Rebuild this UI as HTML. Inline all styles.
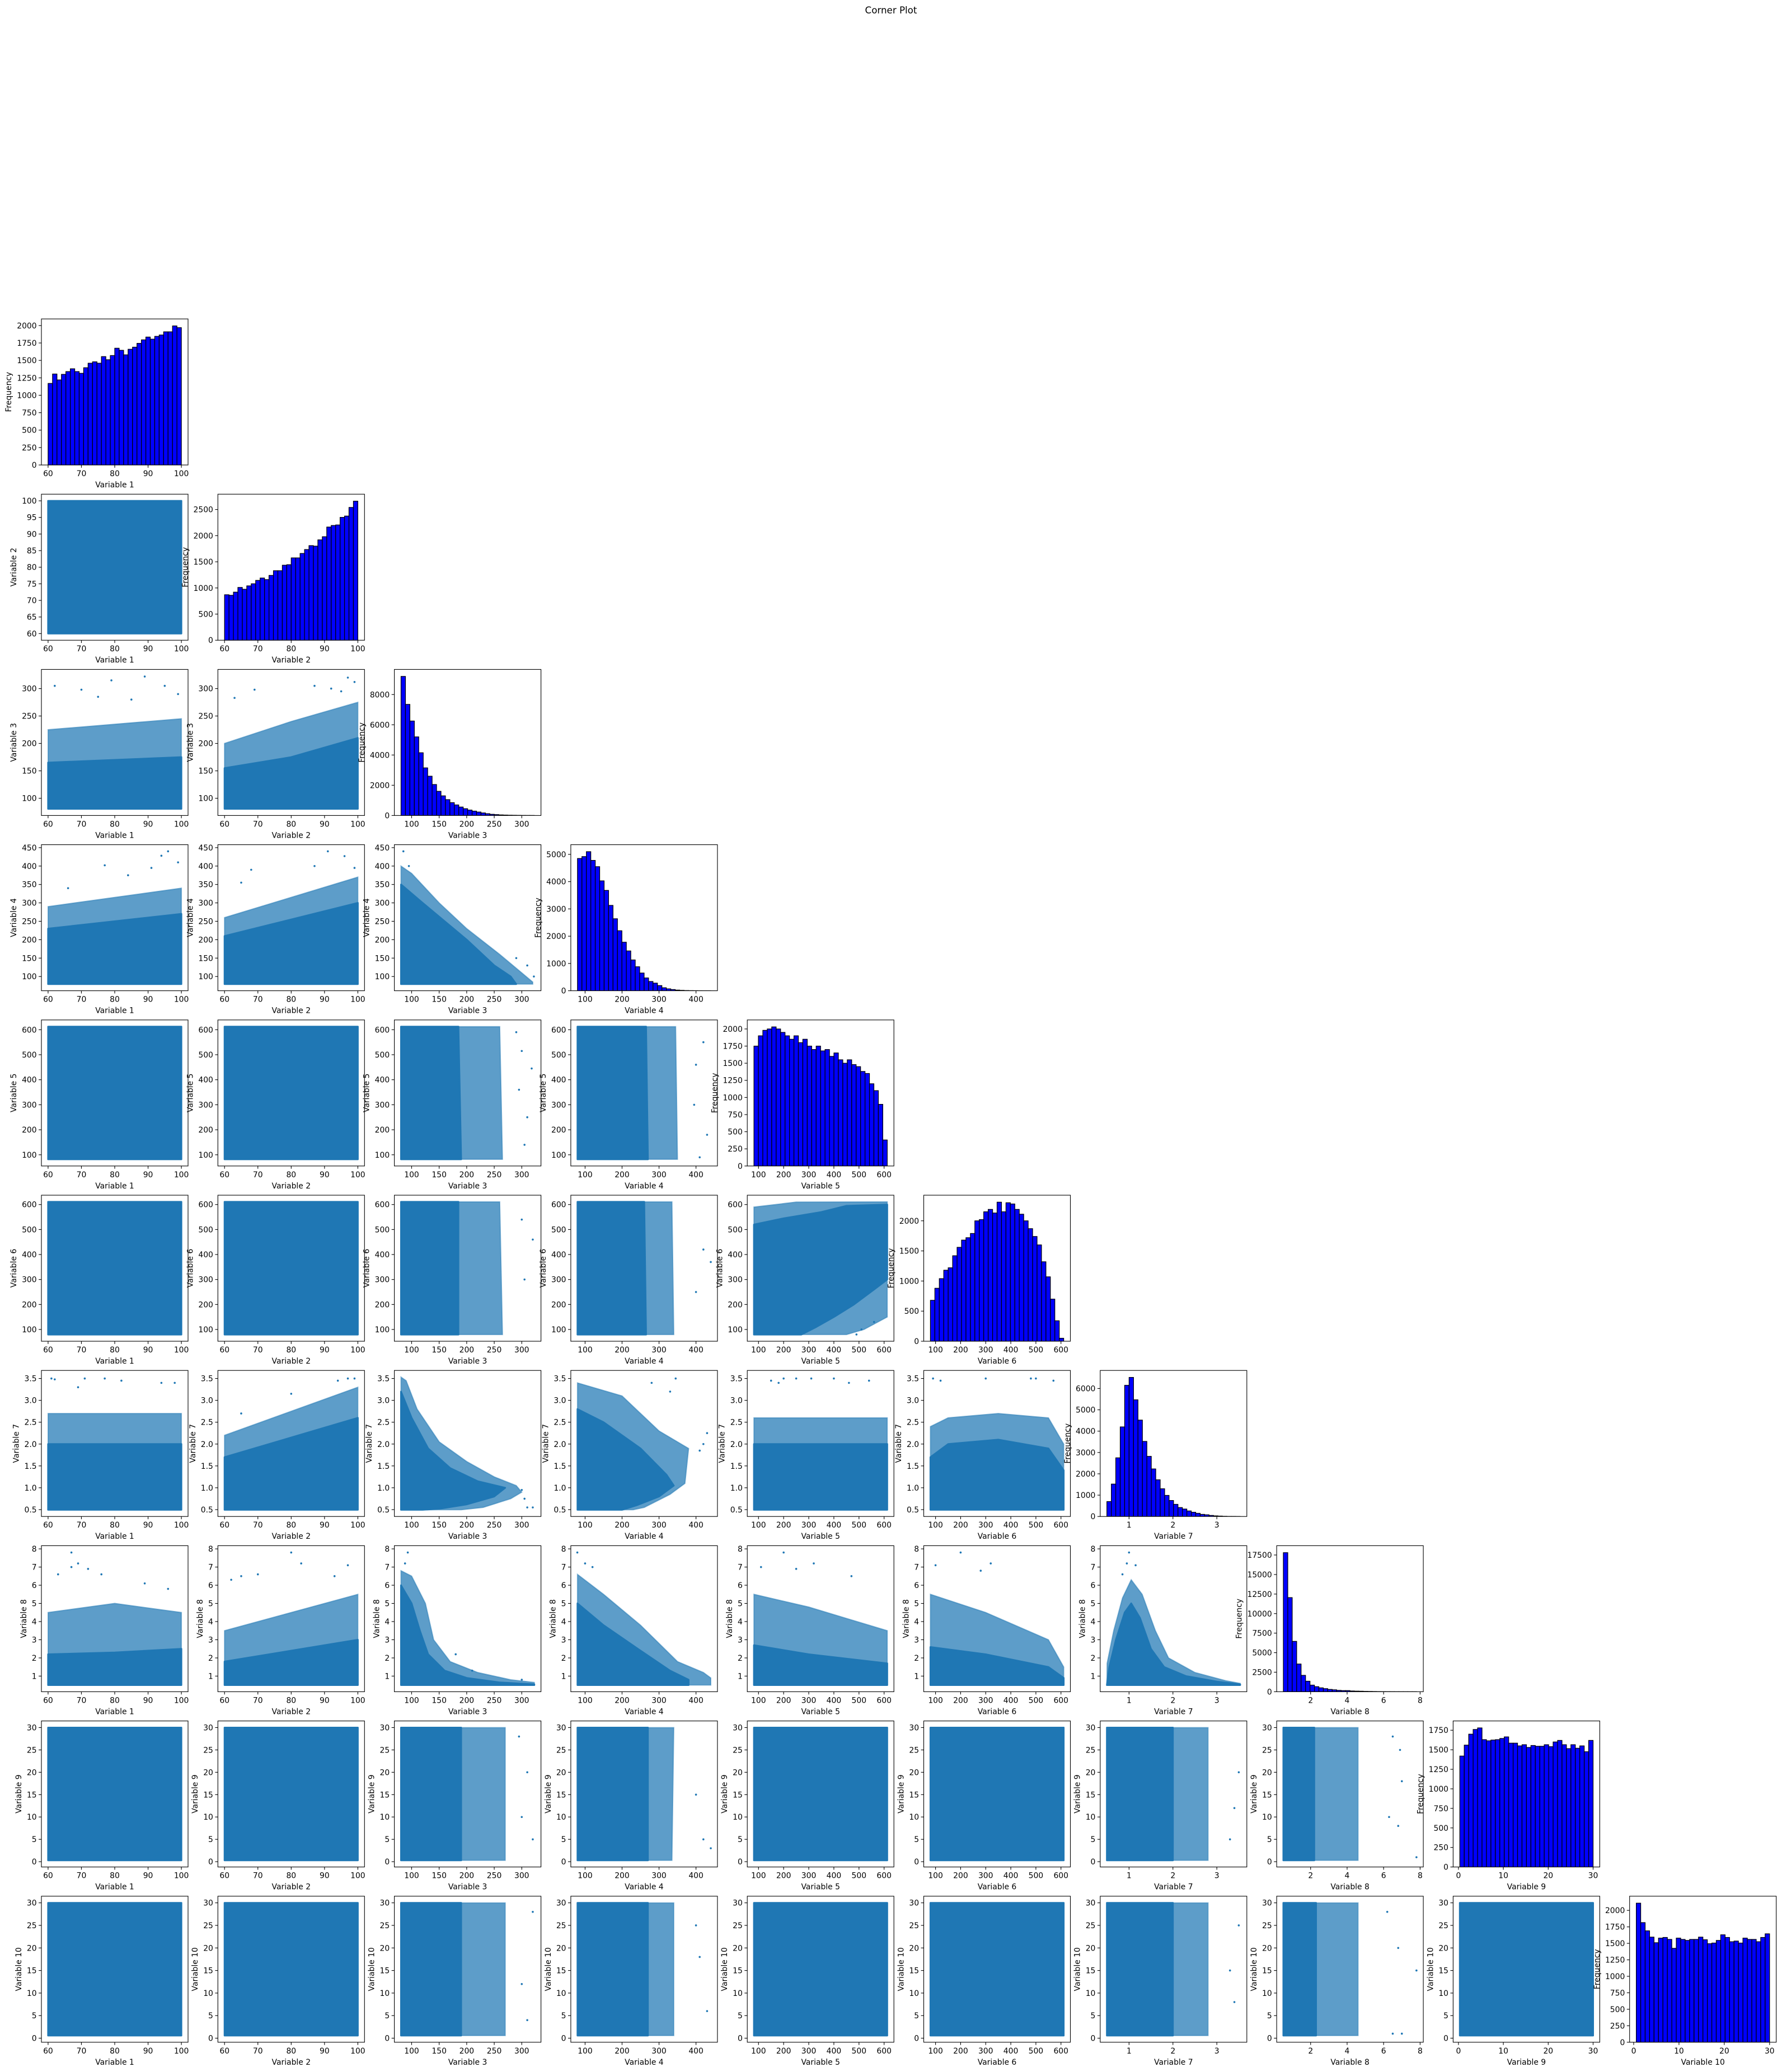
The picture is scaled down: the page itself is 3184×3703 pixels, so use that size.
<!DOCTYPE html>
<html><head><meta charset="utf-8">
<style>
html,body{margin:0;padding:0;background:#fff;}
svg{display:block;font-family:"DejaVu Sans","Liberation Sans",sans-serif;}
</style></head>
<body>
<svg id="fig" width="3184" height="3703" xmlns="http://www.w3.org/2000/svg">
<rect x="0" y="0" width="3184" height="3703" fill="#fff"/>
<text x="1592" y="24" font-size="16.7" text-anchor="middle" fill="#000">Corner Plot</text>
</svg>
<script>
// ---------- data ----------
const varNames = ['Variable 1','Variable 2','Variable 3','Variable 4','Variable 5','Variable 6','Variable 7','Variable 8','Variable 9','Variable 10'];
const varMin = [60,60,80.7,79.4,81.8,79.5,0.495,0.505,0.3,0.57];
const varMax = [100,100,322.8,440,612.5,610.9,3.532,7.81,30,30];
const xTicks = [[60,70,80,90,100],[60,70,80,90,100],[100,150,200,250,300],[100,200,300,400],[100,200,300,400,500,600],[100,200,300,400,500,600],[1,2,3],[2,4,6,8],[0,10,20,30],[0,10,20,30]];
const yTicks = [[60,65,70,75,80,85,90,95,100],[60,65,70,75,80,85,90,95,100],[100,150,200,250,300],[100,150,200,250,300,350,400,450],[100,200,300,400,500,600],[100,200,300,400,500,600],[0.5,1.0,1.5,2.0,2.5,3.0,3.5],[1,2,3,4,5,6,7,8],[0,5,10,15,20,25,30],[0,5,10,15,20,25,30]];
const yTickDecimals = [0,0,0,0,0,0,1,0,0,0];

const hist1 = [1170,1305,1220,1300,1340,1380,1340,1315,1395,1460,1480,1460,1555,1510,1570,1675,1645,1580,1660,1690,1745,1795,1835,1805,1845,1865,1910,1910,1995,1970];
const hist2 = [870,860,920,1010,975,1040,1080,1145,1190,1160,1240,1330,1330,1435,1445,1575,1575,1660,1735,1810,1800,1920,1980,2165,2195,2205,2350,2375,2540,2660];
const hist3 = [9200,7350,6250,5200,4150,3150,2600,2050,1600,1300,1050,850,700,560,450,360,290,230,170,120,80,60,40,30,20,15,10,5,3,2];
const hist4 = [4850,4920,5100,4780,4550,4030,3680,3130,2640,2200,1780,1460,1130,880,650,470,340,280,190,110,70,45,25,15,8,5,3,2,1,1];
const hist5 = [1750,1900,1980,2000,2030,2000,1950,1900,1850,1900,1800,1850,1750,1700,1750,1680,1700,1600,1650,1550,1500,1550,1480,1450,1380,1350,1200,1100,900,380];
const hist6 = [680,880,1040,1180,1220,1420,1560,1680,1720,1790,2000,2020,2150,2190,2130,2310,2150,2300,2280,2190,2110,2000,1870,1740,1600,1320,1070,700,340,50];
const hist7 = [700,1520,2750,4200,6150,6520,5470,4520,3520,2820,2230,1720,1300,990,750,570,420,350,260,200,150,100,80,50,30,20,10,5,5,3];
const hist8 = [17800,12050,6450,3550,2100,1350,850,650,500,400,300,250,180,150,150,100,80,70,50,40,30,20,15,10,8,5,4,3,2,2];
const hist9 = [1420,1560,1700,1760,1780,1630,1615,1625,1630,1645,1665,1585,1585,1550,1565,1530,1555,1545,1545,1565,1540,1600,1620,1565,1515,1565,1520,1550,1475,1620];
const hist10 = [2110,1815,1690,1595,1510,1580,1590,1560,1425,1580,1560,1545,1560,1560,1595,1555,1495,1505,1545,1630,1590,1525,1535,1505,1580,1560,1560,1525,1590,1645];
const hists = [hist1,hist2,hist3,hist4,hist5,hist6,hist7,hist8,hist9,hist10];
const histTicks = [[0,250,500,750,1000,1250,1500,1750,2000],[0,500,1000,1500,2000,2500],[0,2000,4000,6000,8000],[0,1000,2000,3000,4000,5000],[0,250,500,750,1000,1250,1500,1750,2000],[0,500,1000,1500,2000],[0,1000,2000,3000,4000,5000,6000],[0,2500,5000,7500,10000,12500,15000,17500],[0,250,500,750,1000,1250,1500,1750],[0,250,500,750,1000,1250,1500,1750,2000]];

const pairShapes = [
 {y:2,x:1,t:'rect'},
 {y:3,x:1,t:'ytop',s:[60,100],c:[165,175],f:[225,245],o:[[62,305],[70,298],[79,315],[89,322],[95,305],[99,290],[75,285],[85,280]]},
 {y:3,x:2,t:'ytop',s:[60,80,100],c:[155,175,210],f:[200,240,275],o:[[97,320],[99,312],[87,305],[69,298],[63,283],[95,295],[92,300]]},
 {y:4,x:1,t:'ytop',s:[60,100],c:[230,270],f:[290,340],o:[[96,440],[77,402],[99,410],[91,395],[84,375],[66,340],[94,428]]},
 {y:4,x:2,t:'ytop',s:[60,100],c:[210,300],f:[260,370],o:[[91,440],[96,427],[68,390],[87,400],[65,355],[99,395]]},
 {y:4,x:3,t:'poly',c:[[80.7,79.4],[80.7,350],[120,300],[200,200],[250,130],[280,100],[290,79.4]],f:[[80.7,79.4],[80.7,400],[100,380],[150,300],[200,230],[260,160],[300,110],[320,85],[320,79.4]],o:[[85,440],[95,400],[310,130],[322,100],[290,150]]},
 {y:5,x:1,t:'rect'},{y:5,x:2,t:'rect'},
 {y:5,x:3,t:'xright',s:[81.8,612.5],c:[190,185],f:[265,260],o:[[300,515],[318,445],[305,140],[310,250],[290,590],[295,360]]},
 {y:5,x:4,t:'xright',s:[81.8,612.5],c:[270,265],f:[350,345],o:[[420,550],[400,460],[430,180],[410,90],[395,300]]},
 {y:6,x:1,t:'rect'},{y:6,x:2,t:'rect'},
 {y:6,x:3,t:'xright',s:[79.5,610.9],c:[185,185],f:[265,260],o:[[300,540],[320,460],[305,300]]},
 {y:6,x:4,t:'xright',s:[79.5,610.9],c:[265,260],f:[340,335],o:[[420,420],[440,370],[400,250]]},
 {y:6,x:5,t:'poly',c:[[81.8,79.5],[81.8,520],[200,545],[350,570],[450,595],[612.5,600],[612.5,300],[560,260],[480,200],[400,150],[330,110],[270,79.5]],f:[[81.8,79.5],[81.8,590],[250,610],[612.5,610.9],[612.5,150],[520,100],[450,79.5]],o:[[560,130],[490,80],[510,100]]},
 {y:7,x:1,t:'ytop',s:[60,100],c:[2.0,2.0],f:[2.7,2.7],o:[[61,3.5],[62,3.48],[71,3.5],[77,3.5],[82,3.45],[94,3.4],[98,3.4],[69,3.3]]},
 {y:7,x:2,t:'ytop',s:[60,100],c:[1.7,2.6],f:[2.2,3.3],o:[[97,3.5],[99,3.5],[94,3.45],[80,3.15],[65,2.7]]},
 {y:7,x:3,t:'poly',c:[[80.7,0.495],[80.7,3.2],[100,2.6],[130,1.9],[170,1.45],[220,1.15],[270,1.0],[250,0.8],[200,0.62],[150,0.52],[120,0.495]],f:[[80.7,0.495],[80.7,3.532],[90,3.45],[110,2.8],[150,2.05],[200,1.6],[250,1.25],[290,1.05],[300,0.9],[280,0.75],[230,0.55],[190,0.495]],o:[[320,0.55],[310,0.55],[305,0.75],[300,0.95]]},
 {y:7,x:4,t:'poly',c:[[79.4,0.495],[79.4,2.8],[150,2.5],[250,1.9],[320,1.3],[340,1.05],[300,0.8],[240,0.6],[200,0.495]],f:[[79.4,0.495],[79.4,3.4],[200,3.1],[300,2.3],[380,1.9],[370,1.1],[330,0.85],[260,0.55],[230,0.495]],o:[[430,2.25],[410,1.85],[345,3.5],[330,3.2],[280,3.4],[420,2.0]]},
 {y:7,x:5,t:'ytop',s:[81.8,612.5],c:[2.0,2.0],f:[2.6,2.6],o:[[150,3.45],[200,3.5],[250,3.5],[310,3.5],[400,3.5],[460,3.4],[540,3.45],[180,3.4]]},
 {y:7,x:6,t:'ytop',s:[79.5,150,350,550,610.9],c:[1.7,2.0,2.1,1.9,1.4],f:[2.4,2.6,2.7,2.6,2.0],o:[[90,3.5],[120,3.45],[300,3.5],[480,3.5],[500,3.5],[570,3.45]]},
 {y:8,x:1,t:'ytop',s:[60,80,100],c:[2.2,2.3,2.5],f:[4.5,5.0,4.5],o:[[67,7.8],[69,7.2],[67,7.0],[72,6.9],[63,6.6],[76,6.6],[89,6.1],[96,5.8]]},
 {y:8,x:2,t:'ytop',s:[60,100],c:[1.8,3.0],f:[3.5,5.5],o:[[80,7.8],[83,7.2],[97,7.1],[65,6.5],[70,6.6],[93,6.5],[62,6.3]]},
 {y:8,x:3,t:'poly',c:[[80.7,0.505],[80.7,6.0],[100,5.0],[115,3.5],[130,2.2],[160,1.3],[200,0.9],[260,0.65],[322.8,0.55],[322.8,0.505]],f:[[80.7,0.505],[80.7,6.8],[100,6.5],[125,5.0],[140,3.0],[170,1.8],[220,1.2],[280,0.8],[322.8,0.65],[322.8,0.505]],o:[[93,7.8],[88,7.2],[180,2.2],[210,1.3],[300,0.8]]},
 {y:8,x:4,t:'poly',c:[[79.4,0.505],[79.4,5.0],[150,3.8],[250,2.4],[330,1.3],[380,0.8],[380,0.505]],f:[[79.4,0.505],[79.4,6.6],[150,5.5],[250,3.8],[300,2.8],[350,1.8],[420,1.2],[440,0.9],[440,0.505]],o:[[79,7.8],[100,7.2],[120,7.0]]},
 {y:8,x:5,t:'ytop',s:[81.8,300,612.5],c:[2.7,2.2,1.7],f:[5.5,4.8,3.5],o:[[200,7.8],[320,7.2],[110,7.0],[250,6.9],[470,6.5]]},
 {y:8,x:6,t:'ytop',s:[79.5,300,550,610.9],c:[2.6,2.2,1.5,0.9],f:[5.5,4.5,3.0,1.5],o:[[200,7.8],[320,7.2],[100,7.1],[280,6.8]]},
 {y:8,x:7,t:'poly',c:[[0.495,0.505],[0.55,1.5],[0.7,3.0],[0.9,4.5],[1.05,5.0],[1.25,4.2],[1.5,2.5],[1.8,1.5],[2.3,1.0],[3.0,0.7],[3.532,0.55],[3.532,0.505]],f:[[0.495,0.505],[0.5,1.7],[0.65,3.5],[0.85,5.3],[1.05,6.3],[1.3,5.5],[1.6,3.5],[1.9,2.0],[2.5,1.2],[3.2,0.75],[3.532,0.6],[3.532,0.505]],o:[[1.0,7.8],[0.95,7.2],[1.15,7.1],[0.85,6.6]]},
 {y:9,x:1,t:'rect'},{y:9,x:2,t:'rect'},
 {y:9,x:3,t:'xright',s:[0.3,30],c:[190,190],f:[270,270],o:[[300,10],[320,5],[310,20],[295,28]]},
 {y:9,x:4,t:'xright',s:[0.3,30],c:[270,270],f:[335,340],o:[[420,5],[440,3],[400,15]]},
 {y:9,x:5,t:'rect'},{y:9,x:6,t:'rect'},
 {y:9,x:7,t:'xright',s:[0.3,30],c:[2.0,2.0],f:[2.8,2.8],o:[[3.5,20],[3.3,5],[3.4,12]]},
 {y:9,x:8,t:'xright',s:[0.3,30],c:[2.2,2.2],f:[4.6,4.6],o:[[7.8,1],[7.0,18],[6.9,25],[6.5,28],[6.3,10],[6.8,8]]},
 {y:10,x:1,t:'rect'},{y:10,x:2,t:'rect'},
 {y:10,x:3,t:'xright',s:[0.57,30],c:[190,190],f:[270,270],o:[[320,28],[300,12],[310,4]]},
 {y:10,x:4,t:'xright',s:[0.57,30],c:[270,270],f:[340,340],o:[[430,6],[410,18],[400,25]]},
 {y:10,x:5,t:'rect'},{y:10,x:6,t:'rect'},
 {y:10,x:7,t:'xright',s:[0.57,30],c:[2.0,2.0],f:[2.8,2.8],o:[[3.5,25],[3.4,8],[3.3,15]]},
 {y:10,x:8,t:'xright',s:[0.57,30],c:[2.3,2.3],f:[4.6,4.6],o:[[7.8,15],[7.0,1],[6.5,1],[6.8,20],[6.2,28]]},
 {y:10,x:9,t:'rect'}
];

// ---------- layout ----------
const NS='http://www.w3.org/2000/svg';
const svg=document.getElementById('fig');
const PW=262, PH=261, FS=13.9, TICK=4.9, BLUE='#1f77b4';
function colLeft(c){return 74+c*315.3;}
function rowTop(r){return 570+r*313.2;}
function lim(v){const R=varMax[v]-varMin[v];return [varMin[v]-0.05*R,varMax[v]+0.05*R];}
function el(tag,parent){const e=document.createElementNS(NS,tag);parent.appendChild(e);return e;}
function fmt(v,d){return d?v.toFixed(d):String(v);}
function textW(s){let w=0;for(const ch of s){w+=(ch==='.'?0.318:0.636);}return w*FS;}

for(let i=0;i<10;i++){
 for(let j=0;j<=i;j++){
  const left=colLeft(j), top=rowTop(i);
  const [xlo,xhi]=lim(j);
  let ylo,yhi,yt,ylab,ydec;
  if(i===j){const m=Math.max(...hists[i]);ylo=0;yhi=m*1.05;yt=histTicks[i];ylab='Frequency';ydec=0;}
  else{[ylo,yhi]=lim(i);yt=yTicks[i];ylab=varNames[i];ydec=yTickDecimals[i];}
  const X=v=>left+(v-xlo)/(xhi-xlo)*PW;
  const Y=v=>top+PH-(v-ylo)/(yhi-ylo)*PH;

  const g=el('g',svg);
  
  

  const cid='clip'+i+'_'+j;
  const cp=el('clipPath',g);cp.setAttribute('id',cid);
  const cr=el('rect',cp);cr.setAttribute('x',left);cr.setAttribute('y',top);cr.setAttribute('width',PW);cr.setAttribute('height',PH);
  const plot=el('g',g);plot.setAttribute('clip-path','url(#'+cid+')');
  
  

  if(i===j){
   const h=hists[i];const bw=(varMax[i]-varMin[i])/h.length;
   h.forEach((cnt,k)=>{
    const x0=X(varMin[i]+k*bw), x1=X(varMin[i]+(k+1)*bw);
    const r=el('rect',plot);
    
    
    r.setAttribute('x',x0);r.setAttribute('y',Y(cnt));r.setAttribute('width',x1-x0);r.setAttribute('height',Y(0)-Y(cnt));
    r.setAttribute('fill','#0000ff');r.setAttribute('stroke','#000');r.setAttribute('stroke-width','1.2');
   });
  } else {
   const sh=pairShapes.find(p=>p.y===i+1&&p.x===j+1);
   const xmn=varMin[j],xmx=varMax[j],ymn=varMin[i],ymx=varMax[i];
   let core=[],fr=null;
   if(sh.t==='rect'){core=[[xmn,ymn],[xmx,ymn],[xmx,ymx],[xmn,ymx]];}
   else if(sh.t==='ytop'){
    const base=[[sh.s[0],ymn],[sh.s[sh.s.length-1],ymn]];
    core=base.concat(sh.s.map((x,k)=>[x,Math.min(sh.c[k],ymx)]).reverse());
    fr=base.concat(sh.s.map((x,k)=>[x,Math.min(sh.f[k],ymx)]).reverse());
   } else if(sh.t==='xright'){
    const base=[[xmn,sh.s[sh.s.length-1]],[xmn,sh.s[0]]];
    core=base.concat(sh.s.map((y,k)=>[sh.c[k],y]));
    fr=base.concat(sh.s.map((y,k)=>[sh.f[k],y]));
   } else {core=sh.c;fr=sh.f;}
   const toPts=a=>a.map(p=>X(p[0]).toFixed(1)+','+Y(p[1]).toFixed(1)).join(' ');
   if(fr){
    const pf=el('polygon',plot);
    
    
    pf.setAttribute('points',toPts(fr));pf.setAttribute('fill',BLUE);pf.setAttribute('fill-opacity','0.72');
    pf.setAttribute('stroke',BLUE);pf.setAttribute('stroke-opacity','0.5');pf.setAttribute('stroke-width','2');
   }
   const pc=el('polygon',plot);
   
   
   pc.setAttribute('points',toPts(core));pc.setAttribute('fill',BLUE);pc.setAttribute('stroke',BLUE);pc.setAttribute('stroke-width','3');pc.setAttribute('stroke-linejoin','round');
   (sh.o||[]).forEach(p=>{
    const c=el('circle',plot);
    
    
    c.setAttribute('cx',X(p[0]));c.setAttribute('cy',Y(p[1]));c.setAttribute('r','1.8');c.setAttribute('fill',BLUE);
   });
  }

  const fr2=el('rect',g);
  
  
  fr2.setAttribute('x',left);fr2.setAttribute('y',top);fr2.setAttribute('width',PW);fr2.setAttribute('height',PH);
  fr2.setAttribute('fill','none');fr2.setAttribute('stroke','#000');fr2.setAttribute('stroke-width','1.1');

  xTicks[j].forEach(v=>{
   const x=X(v);
   const t=el('line',g);
   
   
   t.setAttribute('x1',x);t.setAttribute('x2',x);t.setAttribute('y1',top+PH);t.setAttribute('y2',top+PH+TICK);t.setAttribute('stroke','#000');t.setAttribute('stroke-width','1.1');
   const l=el('text',g);
   
   
   l.setAttribute('x',x);l.setAttribute('y',top+PH+20);l.setAttribute('font-size',FS);l.setAttribute('text-anchor','middle');
   l.textContent=fmt(v,0);
  });
  const xl=el('text',g);
  
  
  xl.setAttribute('x',left+PW/2);xl.setAttribute('y',top+PH+40);xl.setAttribute('font-size',FS);xl.setAttribute('text-anchor','middle');
  xl.textContent=varNames[j];

  let maxW=0;
  yt.forEach(v=>{
   const y=Y(v);
   const t=el('line',g);
   
   
   t.setAttribute('x1',left-TICK);t.setAttribute('x2',left);t.setAttribute('y1',y);t.setAttribute('y2',y);t.setAttribute('stroke','#000');t.setAttribute('stroke-width','1.1');
   const s=fmt(v,ydec);maxW=Math.max(maxW,textW(s));
   const l=el('text',g);
   
   
   l.setAttribute('x',left-8.4);l.setAttribute('y',y+5);l.setAttribute('font-size',FS);l.setAttribute('text-anchor','end');
   l.textContent=s;
  });
  const yx=left-8.4-maxW-6-8, ym=top+PH/2;
  const yl=el('text',g);
  
  
  yl.setAttribute('x',yx);yl.setAttribute('y',ym);yl.setAttribute('font-size',FS);yl.setAttribute('text-anchor','middle');yl.setAttribute('dominant-baseline','central');
  yl.setAttribute('transform','rotate(-90 '+yx+' '+ym+')');
  yl.textContent=ylab;
 }
}
</script>
</body></html>
